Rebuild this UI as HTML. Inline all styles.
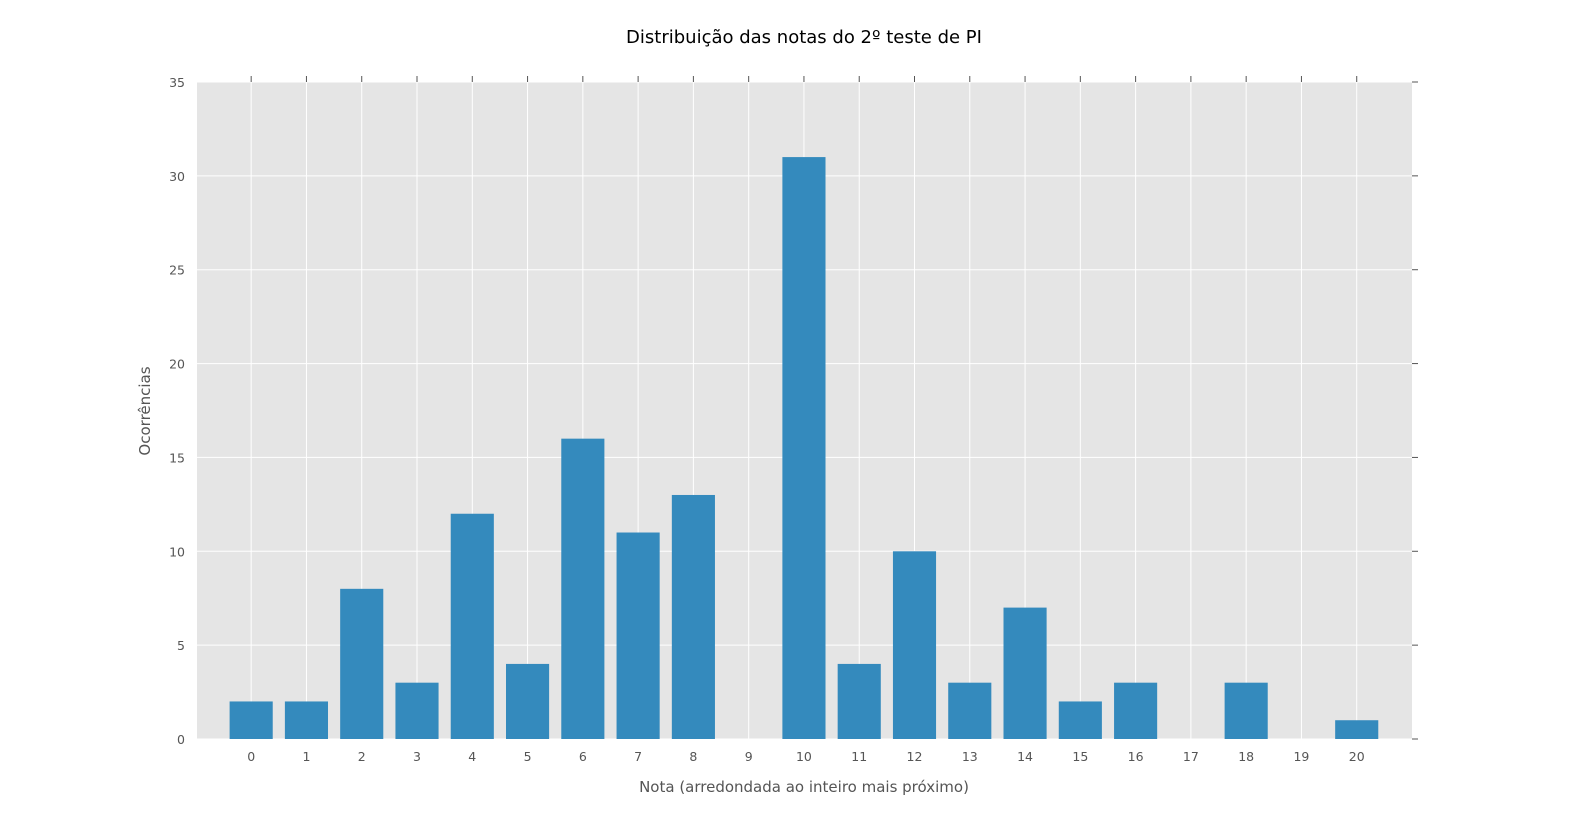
<!DOCTYPE html>
<html><head><meta charset="utf-8"><style>
html,body{margin:0;padding:0;background:#fff;overflow:hidden;width:1578px;height:826px;}
svg{display:block;}
svg text{font-family:"DejaVu Sans","Liberation Sans",sans-serif;}
</style></head><body>
<svg id="chart" width="1578" height="826" xmlns="http://www.w3.org/2000/svg">
<rect x="197" y="82" width="1215" height="657" fill="#e5e5e5"/>
<g id="grid"></g><g id="bars"></g><g id="ticks"></g>
<text x="804" y="43" text-anchor="middle" font-size="18" fill="#000">Distribuição das notas do 2º teste de PI</text>
<text x="804" y="792" text-anchor="middle" font-size="15" fill="#555">Nota (arredondada ao inteiro mais próximo)</text>
<text transform="translate(150,411) rotate(-90)" text-anchor="middle" font-size="15" fill="#555">Ocorrências</text>
</svg>
<script>
const categories=[0,1,2,3,4,5,6,7,8,9,10,11,12,13,14,15,16,17,18,19,20];
const counts=[2,2,8,3,12,4,16,11,13,0,31,4,10,3,7,2,3,0,3,0,1];
const yTicks=[0,5,10,15,20,25,30,35];
const L=197,R=1412,T=82,B=739,xMin=-0.98,xMax=21,yMax=35,barW=0.78;
const NS="http://www.w3.org/2000/svg";
const xs=v=>L+(v-xMin)/(xMax-xMin)*(R-L);
const ys=v=>B-v/yMax*(B-T);
function mk(tag,attrs,parent){const e=document.createElementNS(NS,tag);for(const k in attrs)e.setAttribute(k,attrs[k]);document.getElementById(parent).appendChild(e);return e;}
categories.forEach((c,i)=>{
  const x=xs(c);
  const g=mk('line',{x1:x,x2:x,y1:T,y2:B,stroke:'#fff','stroke-width':1},'grid');
  
  
  const b=mk('rect',{x:xs(c-barW/2),y:ys(counts[i]),width:xs(barW)-xs(0),height:B-ys(counts[i]),fill:'#348abd'},'bars');
  
  
  const t1=mk('line',{x1:x,x2:x,y1:T-6,y2:T,stroke:'#555'},'ticks');
  
  
  const lb=mk('text',{x:x,y:B+22,'text-anchor':'middle','font-size':12.5,fill:'#555'},'ticks');
  lb.textContent=c;
  
  
});
yTicks.forEach(v=>{
  const y=ys(v);
  const g=mk('line',{x1:L,x2:R,y1:y,y2:y,stroke:'#fff','stroke-width':1},'grid');
  
  
  const t=mk('line',{x1:R,x2:R+6,y1:y,y2:y,stroke:'#555'},'ticks');
  
  
  const lb=mk('text',{x:L-12,y:y+5,'text-anchor':'end','font-size':12.5,fill:'#555'},'ticks');
  lb.textContent=v;
  
  
});
</script>
</body></html>
